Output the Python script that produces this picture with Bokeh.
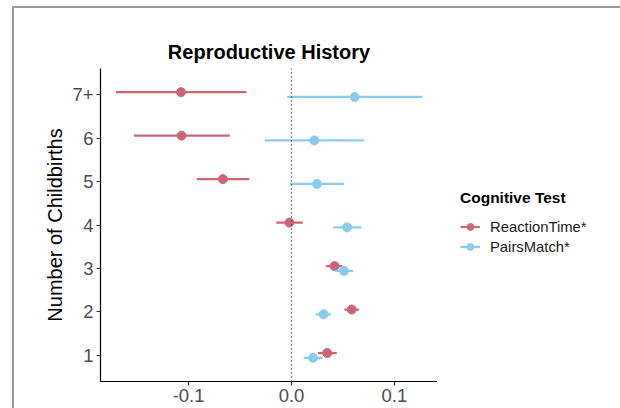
from bokeh.plotting import figure
from bokeh.layouts import row
from bokeh.models import (ColumnDataSource, FactorRange, Range1d, FixedTicker,
                          PrintfTickFormatter, Span, Legend, LegendItem)
from bokeh.transform import dodge
from bokeh.embed import file_html
from bokeh.resources import INLINE

# ---- data ----
categories = ["1", "2", "3", "4", "5", "6", "7+"]

rt_est = [0.0347, 0.0585, 0.0418, -0.0020, -0.0666, -0.1068, -0.1074]
rt_lo = [0.0257, 0.0514, 0.0334, -0.0148, -0.0920, -0.1530, -0.1707]
rt_hi = [0.0440, 0.0656, 0.0495, 0.0110, -0.0408, -0.0600, -0.0437]

pm_est = [0.0209, 0.0312, 0.0511, 0.0540, 0.0248, 0.0222, 0.0614]
pm_lo = [0.0119, 0.0235, 0.0424, 0.0405, -0.0016, -0.0260, -0.0042]
pm_hi = [0.0302, 0.0383, 0.0600, 0.0680, 0.0511, 0.0704, 0.1270]

series_names = ["ReactionTime*", "PairsMatch*"]
series_colors = ["#CC6677", "#88CCEE"]
x_ticks = [-0.1, 0.0, 0.1]

FONT = "Liberation Sans"

all_lo = min(rt_lo + pm_lo)
all_hi = max(rt_hi + pm_hi)
pad = 0.05 * (all_hi - all_lo)

p = figure(width=423, height=400, output_backend="svg", toolbar_location=None,
           y_range=FactorRange(*categories, range_padding=0.1, range_padding_units="absolute"),
           x_range=Range1d(all_lo - pad, all_hi + pad),
           min_border_left=86, min_border_right=0, min_border_top=60, min_border_bottom=27,
           title="Reproductive History")

p.outline_line_color = None
p.xgrid.grid_line_color = None
p.ygrid.grid_line_color = None
p.background_fill_color = "white"
p.border_fill_color = "white"

p.title.align = "center"
p.title.text_font = FONT
p.title.text_font_size = "20px"
p.title.text_font_style = "bold"
p.title.text_color = "black"
p.title.standoff = 11

for ax in (p.xaxis[0], p.yaxis[0]):
    ax.axis_line_color = "black"
    ax.axis_line_width = 1.2
    ax.major_tick_line_color = "#333333"
    ax.major_tick_line_width = 1.2
    ax.major_tick_in = 0
    ax.major_tick_out = 4
    ax.minor_tick_line_color = None
    ax.major_label_text_font = FONT
    ax.major_label_text_font_size = "18.5px"
    ax.major_label_text_color = "#4D4D4D"

p.xaxis.ticker = FixedTicker(ticks=x_ticks)
p.xaxis.formatter = PrintfTickFormatter(format="%.1f")
p.xaxis.major_label_standoff = 3
p.yaxis.major_label_standoff = 3

p.yaxis.axis_label = "Number of Childbirths"
p.yaxis.axis_label_text_font = FONT
p.yaxis.axis_label_text_font_size = "20px"
p.yaxis.axis_label_text_font_style = "normal"
p.yaxis.axis_label_text_color = "black"
p.yaxis.axis_label_standoff = 3

# legend panel (separate, axis-free figure to the right of the plot);
# its ranges lie far from the data, so its key renderers draw nothing visible
lp = figure(width=183, height=400, output_backend="svg", toolbar_location=None,
            x_axis_type=None, y_axis_type=None, min_border=0,
            x_range=Range1d(10, 11), y_range=Range1d(10, 11))
lp.outline_line_color = None
lp.xgrid.grid_line_color = None
lp.ygrid.grid_line_color = None
lp.border_fill_color = "white"
lp.background_fill_color = "white"

items = []
series = [(rt_est, rt_lo, rt_hi, 0.055), (pm_est, pm_lo, pm_hi, -0.055)]
for (est, lo, hi, off), name, color in zip(series, series_names, series_colors):
    src = ColumnDataSource(dict(cat=categories, est=est, lo=lo, hi=hi))
    ydodge = dodge("cat", off, range=p.y_range)
    p.segment(x0="lo", x1="hi", y0=ydodge, y1=ydodge, source=src,
              line_color=color, line_width=2.2)
    p.scatter(x="est", y=ydodge, source=src, size=9,
              fill_color=color, line_color=color)
    # key glyphs for the legend panel (same styling, outside that panel's view)
    kseg = lp.segment(x0="lo", x1="hi", y0="est", y1="est", source=src,
                      line_color=color, line_width=2.2)
    ksc = lp.scatter(x="est", y="est", source=src, size=9,
                     fill_color=color, line_color=color)
    items.append(LegendItem(label=name, renderers=[kseg, ksc]))

p.add_layout(Span(location=0, dimension="height", line_color="#222222",
                  line_width=1.3, line_dash="1 3"))

legend = Legend(items=items, location=(23, 126), title="Cognitive Test")
legend.title_text_font = FONT
legend.title_text_font_size = "15.5px"
legend.title_text_font_style = "bold"
legend.title_text_color = "black"
legend.title_standoff = 11
legend.label_text_font = FONT
legend.label_text_font_size = "14.8px"
legend.label_text_color = "#1A1A1A"
legend.glyph_width = 20
legend.glyph_height = 17
legend.label_height = 17
legend.label_standoff = 10
legend.spacing = 3
legend.padding = 0
legend.margin = 0
legend.border_line_color = None
legend.background_fill_alpha = 0
lp.add_layout(legend)

layout = row(p, lp)
# grey page frame of the original screenshot (left and top edges)
layout.styles = {"margin-left": "12px", "margin-top": "6px",
                 "border-left": "2px solid #9A9A9A", "border-top": "2px solid #9A9A9A"}

open("out.html", "w").write(file_html(layout, INLINE))
